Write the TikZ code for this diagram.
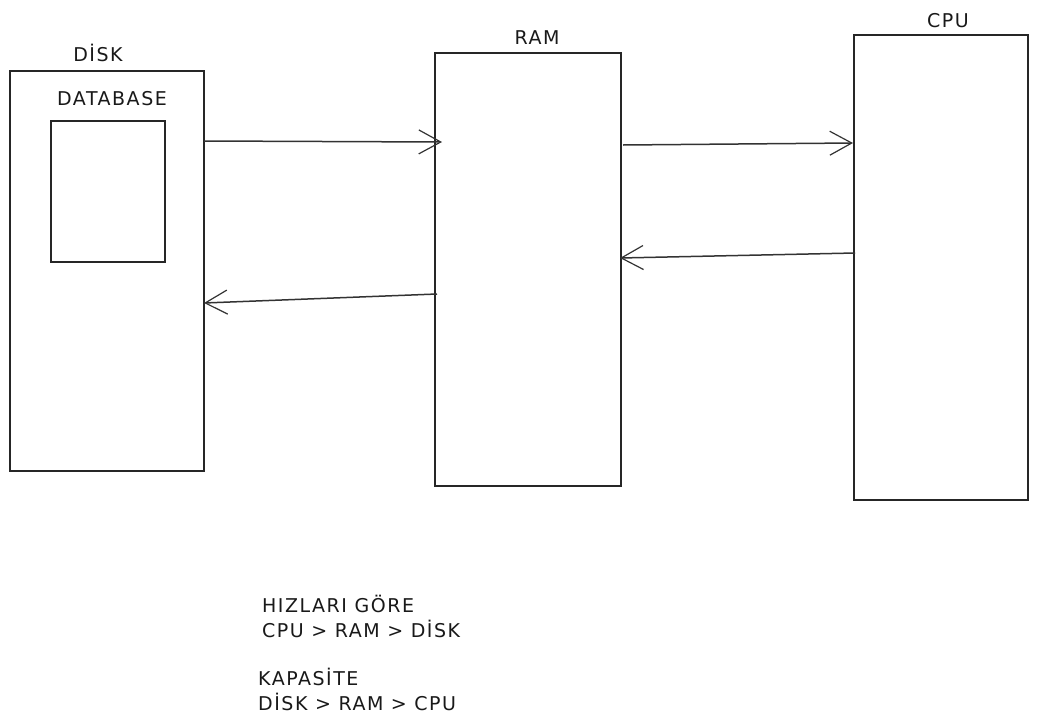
\documentclass[tikz,border=0pt]{standalone}
\usepackage{fontspec}
\setmainfont{DejaVu Sans}[LetterSpace=8]
\usetikzlibrary{arrows.meta,calc}
\begin{document}
\begin{tikzpicture}[x=1pt,y=-1pt,
  box/.style={draw=black!85,line width=1.3pt,rectangle,inner sep=0pt},
  lbl/.style={font=\fontsize{19}{22}\selectfont,text=black!90,inner sep=0pt},
  conn/.style={draw=black!80,line width=1.5pt,-{Straight Barb[length=22pt,width=24pt,line width=1.2pt]}}]
\useasboundingbox (0,0) rectangle (1038,726);
% boxes
\node[box,minimum width=194pt,minimum height=400pt] (disk) at (107,271) {};
\node[box,minimum width=114pt,minimum height=141pt] (db) at (108,191.5) {};
\node[box,minimum width=186pt,minimum height=433pt] (ram) at (528,269.5) {};
\node[box,minimum width=174pt,minimum height=465pt] (cpu) at (941,267.5) {};
% labels
\node[lbl] (disklbl) at (98,53) {DİSK};
\node[lbl] (dblbl) at (112,99) {DATABASE};
\node[lbl] (ramlbl) at (537,38) {RAM};
\node[lbl] (cpulbl) at (948,21) {CPU};
% connector endpoints
\coordinate (d1) at (204,141);
\coordinate (r1) at (442,142);
\coordinate (r2) at (437,294);
\coordinate (d2) at (204,303);
\coordinate (r3) at (623,145);
\coordinate (c3) at (853,143);
\coordinate (c4) at (855,253);
\coordinate (r4) at (620,258);
\draw[conn] (d1) -- (r1);
\draw[conn] (r2) -- (d2);
\draw[conn] (r3) -- (c3);
\draw[conn] (c4) -- (r4);
% bottom text
\node[lbl,anchor=west] (t1) at (262,604) {HIZLARI GÖRE};
\node[lbl,anchor=west] (t2) at (262,629) {CPU > RAM > DİSK};
\node[lbl,anchor=west] (t3) at (258,677) {KAPASİTE};
\node[lbl,anchor=west] (t4) at (258,702) {DİSK > RAM > CPU};
\end{tikzpicture}
\end{document}
